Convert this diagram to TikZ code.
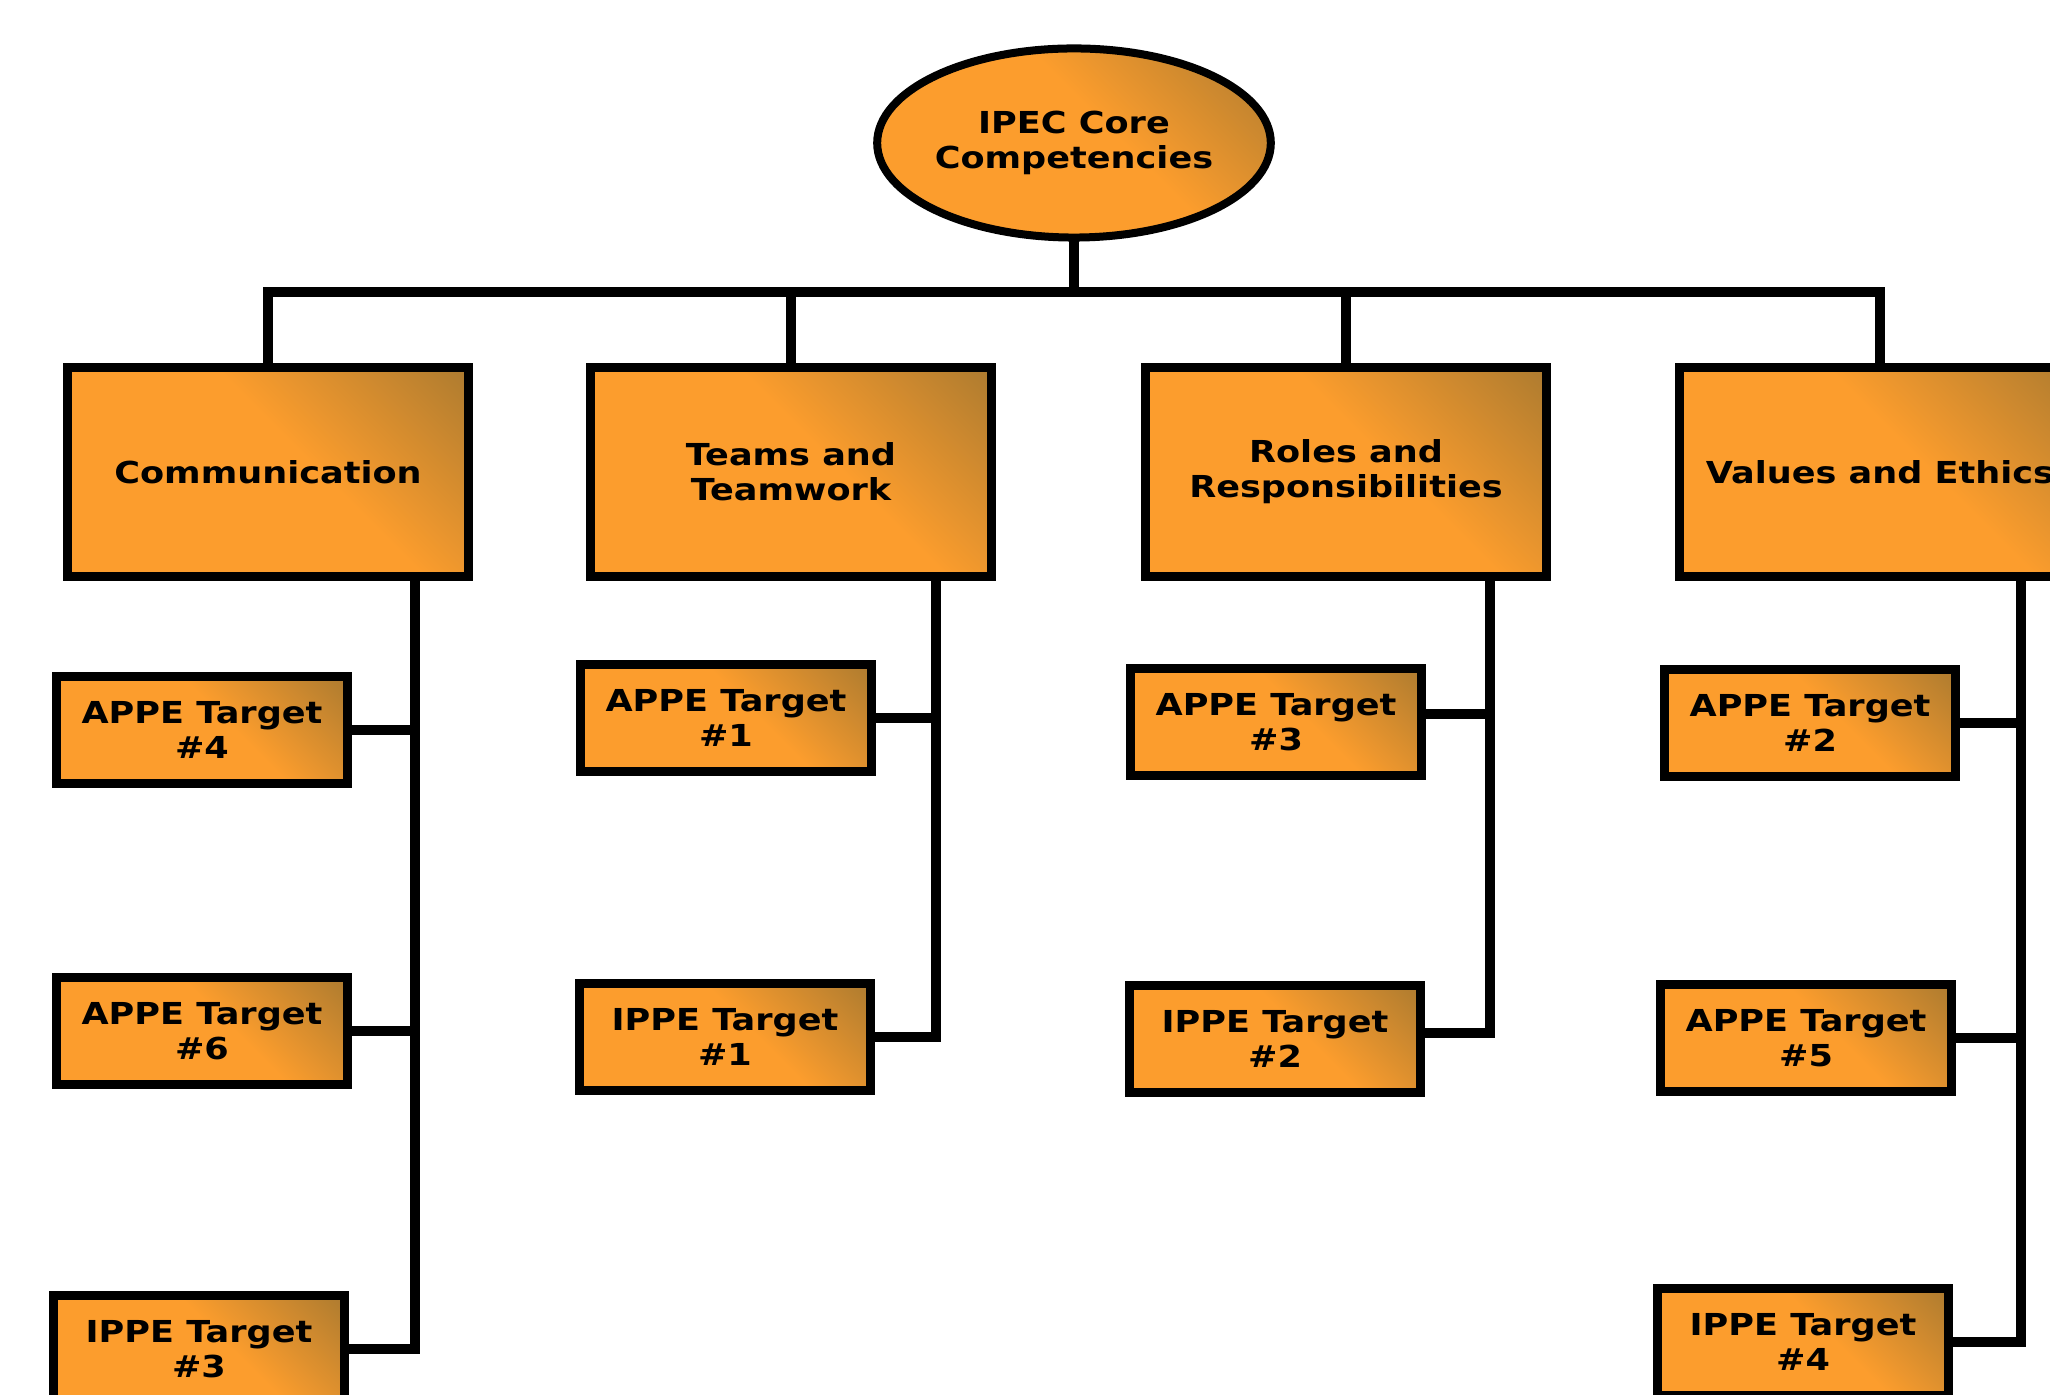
\documentclass[tikz,border=0pt]{standalone}
\usepackage{fontspec}
\newfontfamily\boxfont{DejaVu Sans}[FakeStretch=1.16]
\usetikzlibrary{shapes,calc}
\definecolor{boxorange}{RGB}{252,157,45}
\definecolor{boxbrown}{RGB}{166,120,48}
\pgfdeclarehorizontalshading{boxshade}{100bp}{color(0bp)=(boxorange); color(56bp)=(boxorange); color(88bp)=(boxbrown); color(100bp)=(boxbrown)}

\begin{document}
\begin{tikzpicture}[x=0.01cm,y=-0.01cm,
	boxtext/.style={align=center,inner sep=0pt,outer sep=0pt,font=\boxfont\bfseries\fontsize{8.6pt}{9.96pt}\selectfont},
	corebox/.style={boxtext,ellipse,draw,line width=0.08cm,shading=boxshade,shading angle=45,minimum width=3.78cm,minimum height=1.89cm},
	catbox/.style={boxtext,rectangle,draw,line width=0.09cm,shading=boxshade,shading angle=45,minimum width=4.01cm,minimum height=2.08cm},
	tgtbox/.style={boxtext,rectangle,draw,line width=0.09cm,shading=boxshade,shading angle=45,minimum width=2.91cm,minimum height=1.06cm},
	conn/.style={line width=0.1cm}]
\useasboundingbox (0,0) rectangle (2050,1395);
\clip (0,0) rectangle (2050,1395);
% top and the four competencies
\node[corebox] (core) at (1074,143) {IPEC Core\\Competencies};
\node[catbox] (comm) at (268,472) {Communication};
\node[catbox] (team) at (791,472) {Teams and\\Teamwork};
\node[catbox] (role) at (1346,472) {Roles and\\Responsibilities};
\node[catbox] (vae) at (1880,472) {Values and Ethics};
% targets
\node[tgtbox] (appe4) at (202,730) {APPE Target\\\#4};
\node[tgtbox] (appe6) at (202,1031) {APPE Target\\\#6};
\node[tgtbox] (ippe3) at (199,1349) {IPPE Target\\\#3};
\node[tgtbox] (appe1) at (726,718) {APPE Target\\\#1};
\node[tgtbox] (ippe1) at (725,1037) {IPPE Target\\\#1};
\node[tgtbox] (appe3) at (1276,722) {APPE Target\\\#3};
\node[tgtbox] (ippe2) at (1275,1039) {IPPE Target\\\#2};
\node[tgtbox] (appe2) at (1810,723) {APPE Target\\\#2};
\node[tgtbox] (appe5) at (1806,1038) {APPE Target\\\#5};
\node[tgtbox] (ippe4) at (1803,1342) {IPPE Target\\\#4};
% tree lines
\coordinate (bar) at (0,292);
\draw[conn] (core.south) -- (core.south |- bar);
\draw[conn] (comm.north) -- (comm.north |- bar) -- (vae.north |- bar) -- (vae.north);
\draw[conn] (team.north) -- (team.north |- bar);
\draw[conn] (role.north) -- (role.north |- bar);
\draw[conn] ([xshift=-0.535cm]comm.south east) coordinate (commtr) |- (ippe3.east);
\draw[conn] (appe4.east) -- (appe4.east -| commtr);
\draw[conn] (appe6.east) -- (appe6.east -| commtr);
\draw[conn] ([xshift=-0.555cm]team.south east) coordinate (teamtr) |- (ippe1.east);
\draw[conn] (appe1.east) -- (appe1.east -| teamtr);
\draw[conn] ([xshift=-0.565cm]role.south east) coordinate (roletr) |- ([yshift=0.06cm]ippe2.east);
\draw[conn] ([yshift=0.08cm]appe3.east) -- ([yshift=0.08cm]appe3.east -| roletr);
\draw[conn] ([xshift=-0.6cm]vae.south east) coordinate (vaetr) |- (ippe4.east);
\draw[conn] (appe2.east) -- (appe2.east -| vaetr);
\draw[conn] (appe5.east) -- (appe5.east -| vaetr);
\end{tikzpicture}
\end{document}
